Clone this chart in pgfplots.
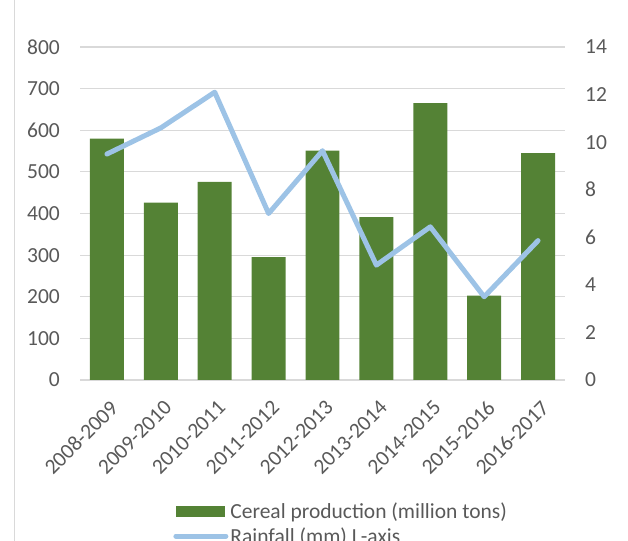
\documentclass[border=0pt]{standalone}
\usepackage{pgfplots}
\pgfplotsset{compat=1.18}
\usepackage{fontspec}
\setmainfont{Carlito}
\definecolor{bargreen}{HTML}{548235}
\definecolor{rainblue}{HTML}{9DC3E6}
\definecolor{gridgray}{HTML}{D9D9D9}
\definecolor{txtgray}{HTML}{595959}
\newcommand{\chartfont}{\fontsize{21.5bp}{25bp}\selectfont}

\pgfplotsset{
  twinbase/.style={
    at={(80bp,161bp)}, anchor=south west,
    scale only axis, width=485bp, height=333bp,
    xmin=-0.5, xmax=8.5,
    axis line style={draw=none},
    major tick length=0pt,
    tick label style={font=\chartfont, text=txtgray, inner sep=0pt},
    /pgf/number format/assume math mode=true,
  },
}

\begin{document}
\begin{tikzpicture}
\path[use as bounding box] (0,0) rectangle (628bp,541bp);
\draw[gridgray, line width=1bp] (14bp,0bp) -- (14bp,541bp);

% left axis: cereal production (bars)
\begin{axis}[
  twinbase,
  ymin=0, ymax=800, ytick={0,100,...,800},
  ymajorgrids, grid style={gridgray, line width=1.2bp},
  yticklabel style={anchor=east, xshift=-20bp},
  xtick={0,...,8},
  xticklabels={2008-2009,2009-2010,2010-2011,2011-2012,2012-2013,2013-2014,2014-2015,2015-2016,2016-2017},
  xticklabel style={xshift=2bp, yshift=-19bp, anchor=north east, rotate=45},
]
\addplot[ybar, bar width=0.63, fill=bargreen, draw=none] coordinates {
  (0,580) (1,426) (2,476) (3,295) (4,551) (5,391) (6,665) (7,203) (8,545)
};
\end{axis}

% right axis: rainfall (line)
\begin{axis}[
  twinbase,
  ymin=0, ymax=14, ytick={0,2,...,14},
  xtick=\empty,
  yticklabel pos=right,
  yticklabel style={anchor=west, xshift=20bp},
  legend style={at={(axis description cs:0.186,-0.355)}, anchor=north west,
    draw=none, fill=none, font=\chartfont, text=txtgray, row sep=4bp},
  legend cell align=left,
]
\addlegendimage{legend image code/.code={\fill[bargreen] (0bp,-5bp) rectangle (48bp,5bp);}}
\addlegendentry{Cereal production (million tons)}
\addplot[rainblue, line width=5bp, line cap=round, line join=round,
  legend image code/.code={\draw[rainblue, line width=5bp, line cap=round] (0bp,0bp) -- (50bp,0bp);}]
  coordinates {
  (0,9.5) (1,10.6) (2,12.1) (3,7.0) (4,9.64) (5,4.83) (6,6.44) (7,3.5) (8,5.86)
};
\addlegendentry{Rainfall (mm) L-axis}
\end{axis}
\end{tikzpicture}
\end{document}
